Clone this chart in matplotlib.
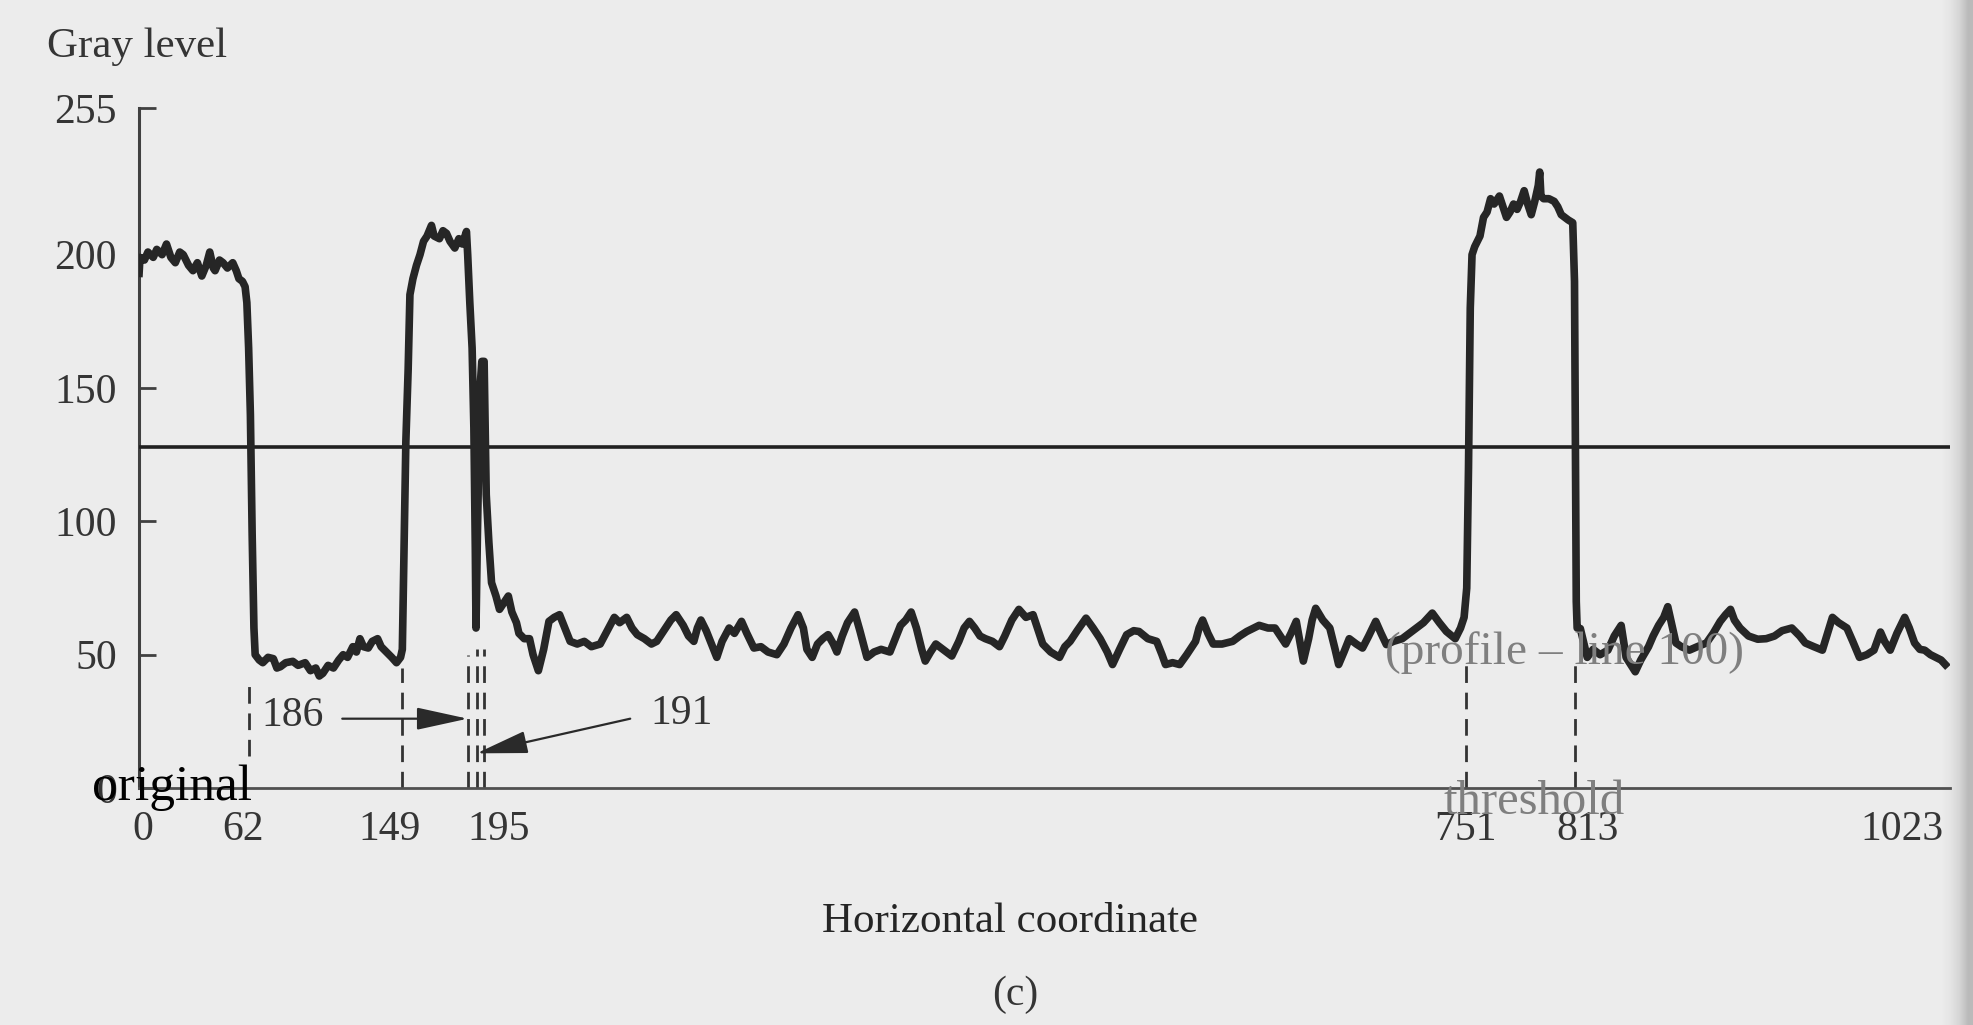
import matplotlib
matplotlib.use("Agg")
import matplotlib.pyplot as plt
from matplotlib.colors import LinearSegmentedColormap

plt.rcParams['font.family'] = ['Liberation Serif', 'DejaVu Serif']

# gray level profile along line 100
profile_x = [0, 0.5, 3, 5, 8, 10, 13, 15.5, 18, 20.5, 23, 25, 28, 30.5, 33, 35.5, 38, 40, 42, 43,
             45.5, 47.5, 50, 53, 55, 56.5, 58.5, 60, 61, 62, 63, 64, 65, 65.7,
             68, 70, 73, 76, 78, 80, 83, 87, 90, 94, 97, 100, 102, 104, 107, 110, 113, 115.5,
             118, 121, 123, 125, 127, 129.7, 132, 135, 137, 140, 143, 145.7, 148, 149,
             150, 151, 152.3, 153.3, 155, 157, 159, 161, 163, 165.5, 167, 170, 172, 174, 176,
             178.7, 181, 183, 185.3, 186, 187.2, 188.5, 189.5, 190.3, 190.7, 191.5, 193, 194,
             195.3, 196.5, 198, 199.5, 202, 204, 207, 209, 211, 213.6, 215, 218, 221, 223, 226,
             229, 232, 235, 238, 241, 244, 248, 252, 256, 261, 265, 269, 272, 276, 279, 282,
             286, 290, 293, 296, 298, 301, 304, 308, 311, 314, 316, 318, 321, 324, 327, 330,
             334, 337, 341, 344, 348, 352, 356, 361, 365, 369, 373, 376, 378, 381, 384, 387,
             390, 393, 395, 398, 401, 405, 408, 412, 416, 420, 425, 428, 431, 434, 437, 440,
             443, 445, 448, 451, 455, 460, 464, 467, 470, 473, 476, 479, 483, 487,
             490, 494, 498, 502, 506, 509, 511.5, 516, 521, 524, 527, 531, 536, 540, 544, 548,
             551, 555, 559, 563, 566, 571, 576, 579, 581, 585, 589, 593, 598, 600, 602, 605,
             608, 613, 619, 623, 627, 631, 634, 639, 643, 646, 649, 652, 655, 657, 659, 662,
             664, 666, 670, 674, 677, 679, 682, 685, 689, 692.5, 696, 700, 703, 706, 710, 715,
             719, 723, 727, 732, 736, 740, 745, 748, 750,
             751.5, 752.5, 753.5, 754.5, 756, 757.5, 759, 761, 763, 765, 767, 770, 772, 774,
             776, 778, 780, 782, 784, 786, 788, 790, 792, 792.8, 793.5, 795, 798, 801, 803, 805,
             807, 809, 811.5, 812.5, 813, 813.5, 814,
             815.8, 819.7, 823, 827, 831.4, 835, 838.9, 841.7, 846.9, 850, 854.4, 857, 860.1,
             863, 865.3, 869.9, 873, 877.5, 882, 887.2, 891, 895, 898, 900.8, 903, 906.2, 911,
             916.2, 921, 925.7, 930, 935.5, 940, 943.1, 948, 952.8, 958.5, 962, 966.7, 970,
             973.8, 978, 982, 985.7, 988, 991.2, 995, 999.4, 1002, 1005, 1008, 1010.7, 1014,
             1017, 1020, 1022.4]
profile_y = [193, 199, 198, 201, 199, 202, 200, 204, 199, 197, 201, 200, 196, 194, 197, 192, 196, 201, 195, 194,
             198, 197, 195, 197, 194, 191, 190, 188, 182, 165, 140, 95, 60, 50,
             48, 47, 49, 48.5, 45, 45.5, 47, 47.5, 46, 47, 44, 45, 42, 43, 46, 45, 48, 50,
             49, 53, 51, 56, 53, 52.5, 55, 56, 53, 51, 49, 47, 49, 52,
             90, 130, 157, 185, 191, 196, 200, 205, 207, 211, 207, 206, 209, 208, 205,
             202.5, 206, 204, 208.7, 200, 182, 165, 135, 90, 60, 95, 150, 160,
             160, 110, 92, 77, 72, 67, 70, 72, 66, 62, 58, 56, 56, 50, 44,
             52, 62.5, 64, 65, 60, 55, 54, 55, 53, 54, 59, 64, 62, 64, 60, 57.5,
             56, 54, 55, 58, 60, 63, 65, 61, 57, 55, 60, 63, 59, 54, 49, 55,
             60, 58, 62.5, 58, 52.5, 53, 51, 50, 54, 60, 65, 60, 52, 49, 54, 56,
             57.5, 54, 51, 57, 62, 66, 59, 49, 51, 52, 51, 56, 61, 63, 66, 60,
             52, 47.6, 51, 54, 52, 49.5, 55, 60, 62.5, 60, 57, 56, 55, 53,
             57, 63, 67, 64, 65, 59, 54, 51, 49, 53, 55, 59, 63.7, 60, 56, 51,
             46.3, 52, 57.5, 59, 58.7, 56, 55, 50, 46.3, 47, 46.3, 50, 55, 60, 63, 58,
             54, 54, 55, 57, 58.7, 60, 61, 60, 60, 57, 54, 58, 62.5, 55, 47.6, 56,
             63, 67.4, 63, 60, 52, 46.3, 51, 56, 54, 52.5, 57, 62.5, 58, 53.8, 55, 56,
             58, 60, 62, 65.6, 62, 58.7, 56, 60, 64,
             75, 120, 180, 200, 203, 205, 207, 214, 216, 221, 219, 222, 218, 214,
             216, 219, 217, 220, 224, 219, 215, 220, 226, 231, 222, 221, 221, 220, 218, 215,
             214, 213, 212, 190, 130, 70, 60,
             59.8, 49, 52, 50, 51.7, 57, 61, 49, 43.6, 48, 53, 57, 61,
             64, 68, 54.4, 53, 51.7, 53, 54.4, 58, 62.5, 65, 67, 63, 60, 57,
             55.8, 56, 57, 59, 60, 57, 54.4, 53, 51.7, 64, 62, 60, 55,
             49, 50, 51.7, 58.5, 55, 51.7, 58, 64, 60, 54.4, 52, 51.7, 50,
             49, 48, 46.3]

threshold = 128

y_ticks = [0, 50, 100, 150, 200, 255]
x_marks = [0, 62, 149, 195, 751, 813, 1023]
# small horizontal nudges (points) of the printed labels
x_mark_shift = [3, -4, -9, 11, 0, 9, -2]

# dashed guide lines: position, bottom, top
guide_x = [62, 149, 186, 191, 195, 751, 813]
guide_lo = [12, 0, 0, 0, 0, 0, 0]
guide_hi = [40, 45, 50, 52, 52, 47, 47]

fig = plt.figure(figsize=(19.73, 10.25), dpi=100)
fig.patch.set_facecolor('#ececec')

# darker page edge on the right
shade = fig.add_axes([0.982, 0, 0.018, 1])
shade.imshow([[0, 0.15, 0.45, 1]], interpolation='bilinear',
             cmap=LinearSegmentedColormap.from_list('edge', ['#ececec', '#bababa']),
             aspect='auto', extent=[0, 1, 0, 1])
shade.axis('off')
shade.set_zorder(0)

ax = fig.add_axes([0.0705, 0.2312, 0.9178, 0.6634])
ax.set_zorder(1)
ax.patch.set_alpha(0)

ax.plot(profile_x, profile_y, color='#262626', lw=5.5, zorder=4)
ax.axhline(threshold, color='#202020', lw=2.6, zorder=3)

for gx, lo, hi in zip(guide_x, guide_lo, guide_hi):
    ax.plot([gx, gx], [lo, hi], color='#333333', lw=2, linestyle=(0, (6, 3.5)), zorder=2)

# arrows pointing at 186 and 191
ax.annotate('', xy=(186, 26), xytext=(115, 26),
            arrowprops=dict(arrowstyle='-|>,head_length=1.6,head_width=0.35',
                            mutation_scale=20, color='#2a2a2a', lw=1.6, shrinkA=0, shrinkB=0))
ax.annotate('', xy=(191, 13), xytext=(278, 26),
            arrowprops=dict(arrowstyle='-|>,head_length=1.6,head_width=0.35',
                            mutation_scale=20, color='#2a2a2a', lw=1.6, shrinkA=0, shrinkB=0))
ax.text(87, 27, '186', fontsize=30, color='#333333', ha='center', va='center')
ax.text(307, 28, '191', fontsize=30, color='#333333', ha='center', va='center')

ax.set_xlim(0, 1025)
ax.set_ylim(0, 255)

for s in ['top', 'right']:
    ax.spines[s].set_visible(False)
ax.spines['left'].set_color('#404040')
ax.spines['left'].set_linewidth(2.2)
ax.spines['bottom'].set_color('#505050')
ax.spines['bottom'].set_linewidth(2)

ax.set_yticks(y_ticks)
ax.set_yticklabels([str(v) for v in y_ticks])
ax.tick_params(axis='y', direction='in', length=12, width=2, color='#404040',
               pad=16, labelsize=30, labelcolor='#353535')
ax.get_yticklabels()[-1].set_va('center_baseline')
ax.set_xticks([])

for v, dx in zip(x_marks, x_mark_shift):
    ax.annotate(str(v), xy=(v, 0), xycoords=('data', 'axes fraction'),
                xytext=(dx, -30), textcoords='offset points',
                ha='right' if v == 1023 else 'center', va='center',
                fontsize=30, color='#353535')

fig.text(0.0238, 0.9444, 'Gray level', fontsize=31, color='#353535', ha='left', va='baseline')
fig.text(0.512, 0.0907, 'Horizontal coordinate', fontsize=31, color='#252525',
         ha='center', va='baseline')
fig.text(0.5145, 0.0293, '(c)', fontsize=30, color='#353535', ha='center', va='center')

# overlaid captions
fig.text(0.1277, 0.2195, 'original', fontsize=37, color='black', ha='right', va='baseline')
fig.text(0.7932, 0.3522, '(profile \u2013 line 100)', fontsize=34, color='#7f7f7f',
         ha='center', va='baseline')
fig.text(0.7775, 0.2059, 'threshold', fontsize=35, color='#7f7f7f', ha='center', va='baseline')

fig.savefig('out.png', dpi=100, facecolor=fig.get_facecolor())
